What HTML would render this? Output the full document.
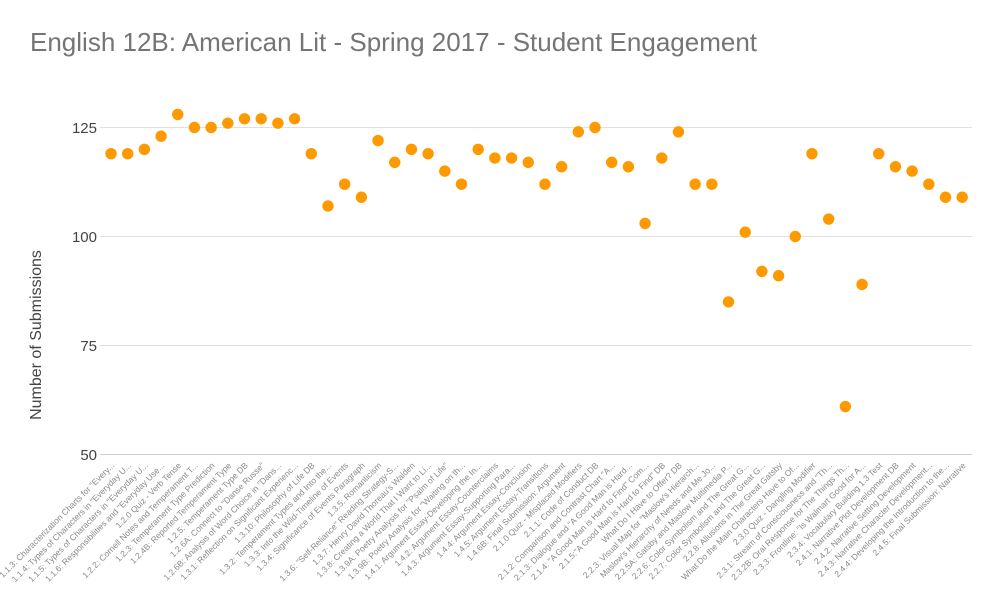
<!DOCTYPE html>
<html><head><meta charset="utf-8"><style>
html,body{margin:0;padding:0;background:#fff;}
svg{display:block;font-family:"Liberation Sans",Arial,sans-serif;}
</style></head><body>
<svg id="c" width="996" height="613" xmlns="http://www.w3.org/2000/svg">
<text x="30" y="51" font-size="26" fill="#757575">English 12B: American Lit - Spring 2017 - Student Engagement</text>
<g stroke="#e0e0e0" stroke-width="1">
<line x1="100" x2="972" y1="127.5" y2="127.5"/>
<line x1="100" x2="972" y1="236.5" y2="236.5"/>
<line x1="100" x2="972" y1="345.5" y2="345.5"/>
</g>
<line x1="100" x2="972" y1="454.5" y2="454.5" stroke="#cfcfcf"/>
<g font-size="15" fill="#444" text-anchor="end">
<text x="97" y="133">125</text><text x="97" y="242">100</text><text x="97" y="351">75</text><text x="97" y="460">50</text>
</g>
<text transform="translate(41,335) rotate(-90)" font-size="16" fill="#444" text-anchor="middle">Number of Submissions</text>
<g id="pts" fill="#ff9900"></g>
<g id="lbl" font-size="8.5" fill="#8a8a8a" text-anchor="end"></g>
</svg>
<script>
var v=[119,119,120,123,128,125,125,126,127,127,126,127,119,107,112,109,122,117,120,119,115,112,120,118,118,117,112,116,124,125,117,116,103,118,124,112,112,85,101,92,91,100,119,104,61,89,119,116,115,112,109,109];
var L=['1.1.3: Characterization Charts for "Every...','1.1.4: Types of Characters in "Everyday U...','1.1.5: Types of Characters in "Everyday U...','1.1.6: Responsibilities and "Everyday Use...','1.2.0 Quiz - Verb Tense','1.2.2: Cornell Notes and Temperament T...','1.2.3: Temperament Type Prediction','1.2.4B: Reported Temperament Type','1.2.5: Temperament Type DB','1.2.6A: Connect to "Danse Russe"','1.2.6B: Analysis of Word Choice in "Dans...','1.3.1: Reflection on Significant Experienc...','1.3.10: Philosophy of Life DB','1.3.2: Temperament Types and Into the...','1.3.3: Into the Wild-Timeline of Events','1.3.4: Significance of Events Paragraph','1.3.5: Romanticism','1.3.6: "Self-Reliance" Reading Strategy-S...','1.3.7: Henry David Thoreau\'s Walden','1.3.8: Creating a World That I Want to Li...','1.3.9A: Poetry Analysis for "Psalm of Life"','1.3.9B: Poetry Analysis for "Waiting on th...','1.4.1: Argument Essay-Developing the In...','1.4.2: Argument Essay-Counterclaims','1.4.3: Argument Essay-Supporting Para...','1.4.4: Argument Essay-Conclusion','1.4.5: Argument Essay-Transitions','1.4.6B: Final Submission: Argument','2.1.0 Quiz - Misplaced Modifiers','2.1.1: Code of Conduct DB','2.1.2: Comparison and Contrast Chart "A...','2.1.3: Dialogue and "A Good Man is Hard...','2.1.4: "A Good Man is Hard to Find" Com...','2.1.5:"A Good Man is Hard to Find" DB','What Do I Have to Offer? DB','2.2.3: Visual Map for "Maslow\'s Hierarch...','Maslow\'s Hierarchy of Needs and Me Jo...','2.2.5A: Gatsby and Maslow Multimedia P...','2.2.6: Color Symbolism and The Great G...','2.2.7: Color Symbolism and The Great G...','2.2.8: Allusions in The Great Gatsby','What Do the Main Characters Have to Of...','2.3.0 Quiz - Dangling Modifier','2.3.1: Stream of Consciousness and "Th...','2.3.2B: Oral Response for The Things Th...','2.3.3: Frontline: "Is Walmart Good for A...','2.3.4: Vocabulary Building 1.3 Test','2.4.1: Narrative Plot Development DB','2.4.2: Narrative Setting Development','2.4.3: Narrative Character Development...','2.4.4: Developing the Introduction to the...','2.4.5: Final Submission: Narrative'];
var ns="http://www.w3.org/2000/svg",P=document.getElementById('pts'),G=document.getElementById('lbl');
for(var i=0;i<v.length;i++){var x=111+i*16.69,y=454.5-(v[i]-50)*4.36;
var c=document.createElementNS(ns,'circle');c.setAttribute('cx',x);c.setAttribute('cy',y);c.setAttribute('r',5.7);P.appendChild(c);
var t=document.createElementNS(ns,'text');t.setAttribute('transform','translate('+(x+4)+',466) rotate(-45)');t.textContent=L[i];G.appendChild(t);}
</script>
</body></html>
